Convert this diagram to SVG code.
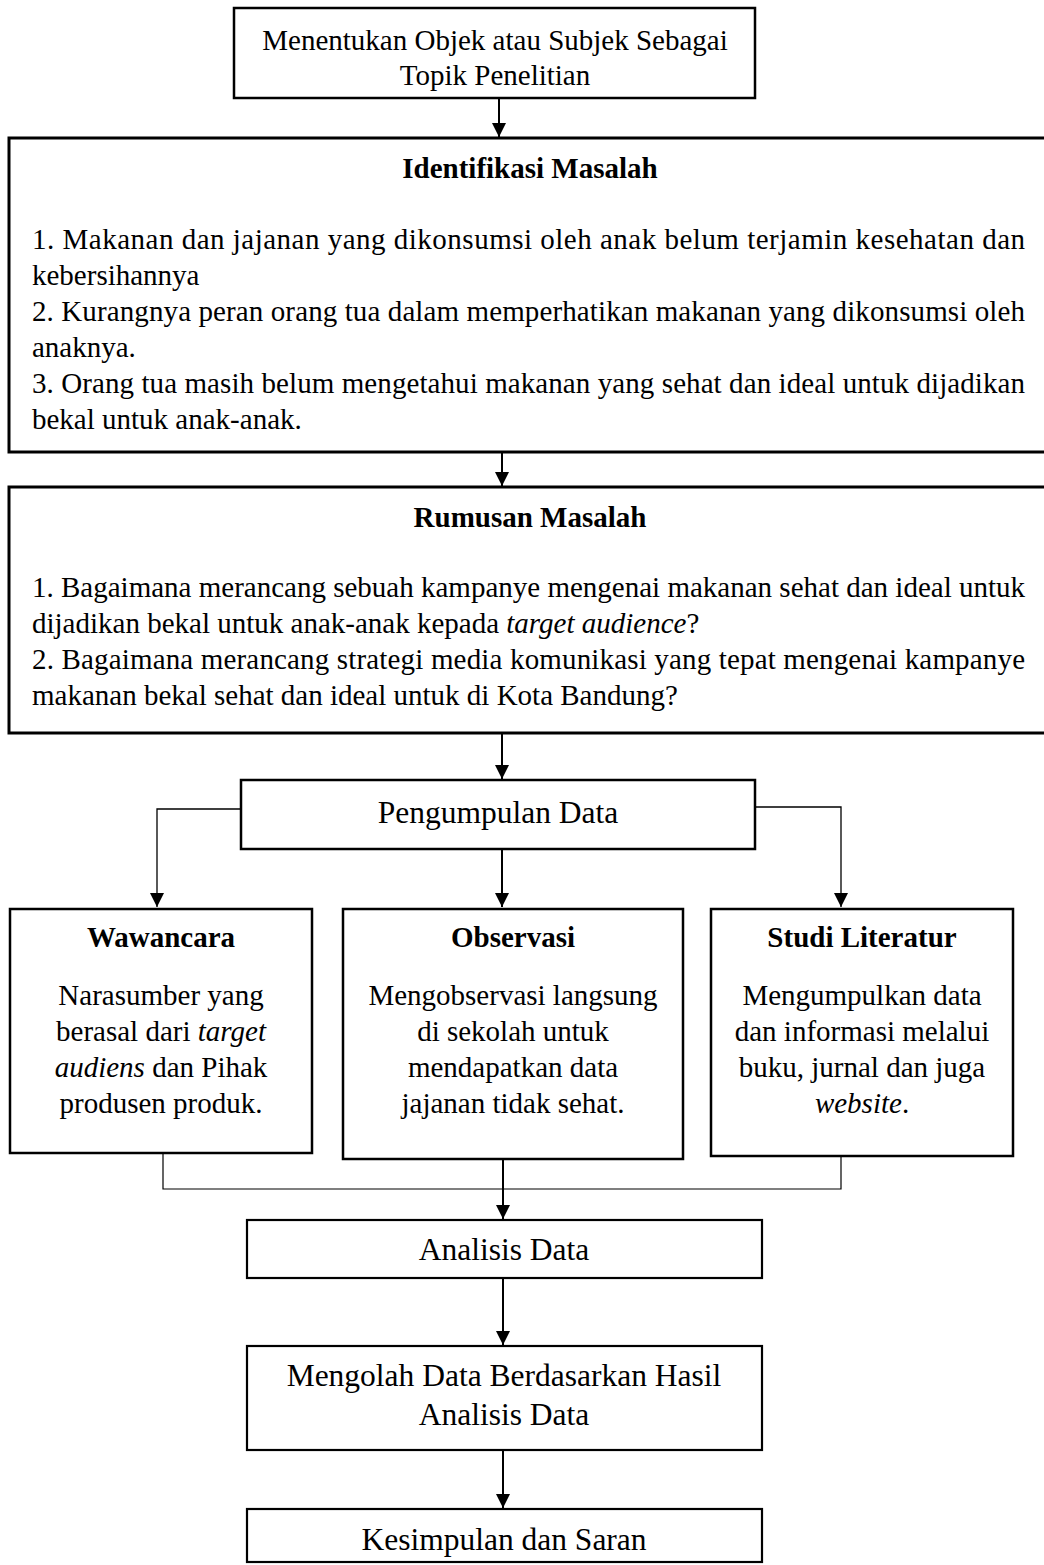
<svg xmlns="http://www.w3.org/2000/svg" width="1044" height="1565" viewBox="0 0 1044 1565">
<defs>
<style>
text{font-family:"Liberation Serif","Times New Roman",serif;fill:#000}
.b{font-size:29px}
.c{text-anchor:middle}
.t{font-weight:bold}
.l{font-size:31.5px}
.box{fill:#fff;stroke:#000}
.conn{fill:none;stroke:#000}
</style>
<marker id="ah" viewBox="0 0 10 10" refX="10" refY="5" markerWidth="14" markerHeight="14" markerUnits="userSpaceOnUse" orient="auto">
<path d="M0,0 L10,5 L0,10 z" fill="#000"/>
</marker>
</defs>
<rect width="1044" height="1565" fill="#fff"/>

<g id="connectors">
<line class="conn" x1="499" y1="98" x2="499" y2="137" stroke-width="2" marker-end="url(#ah)"/>
<line class="conn" x1="502" y1="452" x2="502" y2="486" stroke-width="2" marker-end="url(#ah)"/>
<line class="conn" x1="502" y1="733" x2="502" y2="779" stroke-width="2" marker-end="url(#ah)"/>
<polyline class="conn" points="241,809 157,809 157,907" stroke-width="1.3" marker-end="url(#ah)"/>
<polyline class="conn" points="755,807 841,807 841,907" stroke-width="1.3" marker-end="url(#ah)"/>
<line class="conn" x1="502" y1="849" x2="502" y2="907" stroke-width="2" marker-end="url(#ah)"/>
<polyline class="conn" points="163,1153 163,1189 841,1189 841,1156" stroke-width="1.2"/>
<line class="conn" x1="503" y1="1159" x2="503" y2="1219" stroke-width="2" marker-end="url(#ah)"/>
<line class="conn" x1="503" y1="1278" x2="503" y2="1345" stroke-width="2" marker-end="url(#ah)"/>
<line class="conn" x1="503" y1="1450" x2="503" y2="1508" stroke-width="2" marker-end="url(#ah)"/>
</g>

<g id="topik">
<rect class="box" x="234" y="8" width="521" height="90" stroke-width="2.5"/>
<text class="b c" x="495" y="50">Menentukan Objek atau Subjek Sebagai</text>
<text class="b c" x="495" y="85">Topik Penelitian</text>
</g>

<g id="identifikasi">
<rect class="box" x="9" y="138" width="1045" height="314" stroke-width="3"/>
<text class="b c t" x="530" y="178">Identifikasi Masalah</text>
<text class="b" x="32" y="249" textLength="993" lengthAdjust="spacing">1. Makanan dan jajanan yang dikonsumsi oleh anak belum terjamin kesehatan dan</text>
<text class="b" x="32" y="285">kebersihannya</text>
<text class="b" x="32" y="321" textLength="993" lengthAdjust="spacing">2. Kurangnya peran orang tua dalam memperhatikan makanan yang dikonsumsi oleh</text>
<text class="b" x="32" y="357">anaknya.</text>
<text class="b" x="32" y="393" textLength="993" lengthAdjust="spacing">3. Orang tua masih belum mengetahui makanan yang sehat dan ideal untuk dijadikan</text>
<text class="b" x="32" y="429">bekal untuk anak-anak.</text>
</g>

<g id="rumusan">
<rect class="box" x="9" y="487" width="1045" height="246" stroke-width="3"/>
<text class="b c t" x="530" y="527">Rumusan Masalah</text>
<text class="b" x="32" y="597" textLength="993" lengthAdjust="spacing">1. Bagaimana merancang sebuah kampanye mengenai makanan sehat dan ideal untuk</text>
<text class="b" x="32" y="633">dijadikan bekal untuk anak-anak kepada <tspan font-style="italic">target audience</tspan>?</text>
<text class="b" x="32" y="669" textLength="993" lengthAdjust="spacing">2. Bagaimana merancang strategi media komunikasi yang tepat mengenai kampanye</text>
<text class="b" x="32" y="705">makanan bekal sehat dan ideal untuk di Kota Bandung?</text>
</g>

<g id="pengumpulan">
<rect class="box" x="241" y="780" width="514" height="69" stroke-width="2.5"/>
<text class="l c" x="498" y="823">Pengumpulan Data</text>
</g>

<g id="wawancara">
<rect class="box" x="10" y="909" width="302" height="244" stroke-width="2.5"/>
<text class="b c t" x="161" y="947">Wawancara</text>
<text class="b c" x="161" y="1005">Narasumber yang</text>
<text class="b c" x="161" y="1041">berasal dari <tspan font-style="italic">target</tspan></text>
<text class="b c" x="161" y="1077"><tspan font-style="italic">audiens</tspan> dan Pihak</text>
<text class="b c" x="161" y="1113">produsen produk.</text>
</g>

<g id="observasi">
<rect class="box" x="343" y="909" width="340" height="250" stroke-width="2.5"/>
<text class="b c t" x="513" y="947">Observasi</text>
<text class="b c" x="513" y="1005">Mengobservasi langsung</text>
<text class="b c" x="513" y="1041">di sekolah untuk</text>
<text class="b c" x="513" y="1077">mendapatkan data</text>
<text class="b c" x="513" y="1113">jajanan tidak sehat.</text>
</g>

<g id="studi">
<rect class="box" x="711" y="909" width="302" height="247" stroke-width="2.5"/>
<text class="b c t" x="862" y="947">Studi Literatur</text>
<text class="b c" x="862" y="1005">Mengumpulkan data</text>
<text class="b c" x="862" y="1041">dan informasi melalui</text>
<text class="b c" x="862" y="1077">buku, jurnal dan juga</text>
<text class="b c" x="862" y="1113"><tspan font-style="italic">website</tspan>.</text>
</g>

<g id="analisis">
<rect class="box" x="247" y="1220" width="515" height="58" stroke-width="2.2"/>
<text class="l c" x="504" y="1260">Analisis Data</text>
</g>

<g id="mengolah">
<rect class="box" x="247" y="1346" width="515" height="104" stroke-width="2.2"/>
<text class="l c" x="504" y="1386">Mengolah Data Berdasarkan Hasil</text>
<text class="l c" x="504" y="1425">Analisis Data</text>
</g>

<g id="kesimpulan">
<rect class="box" x="247" y="1509" width="515" height="53" stroke-width="2.2"/>
<text class="l c" x="504" y="1550">Kesimpulan dan Saran</text>
</g>
</svg>
